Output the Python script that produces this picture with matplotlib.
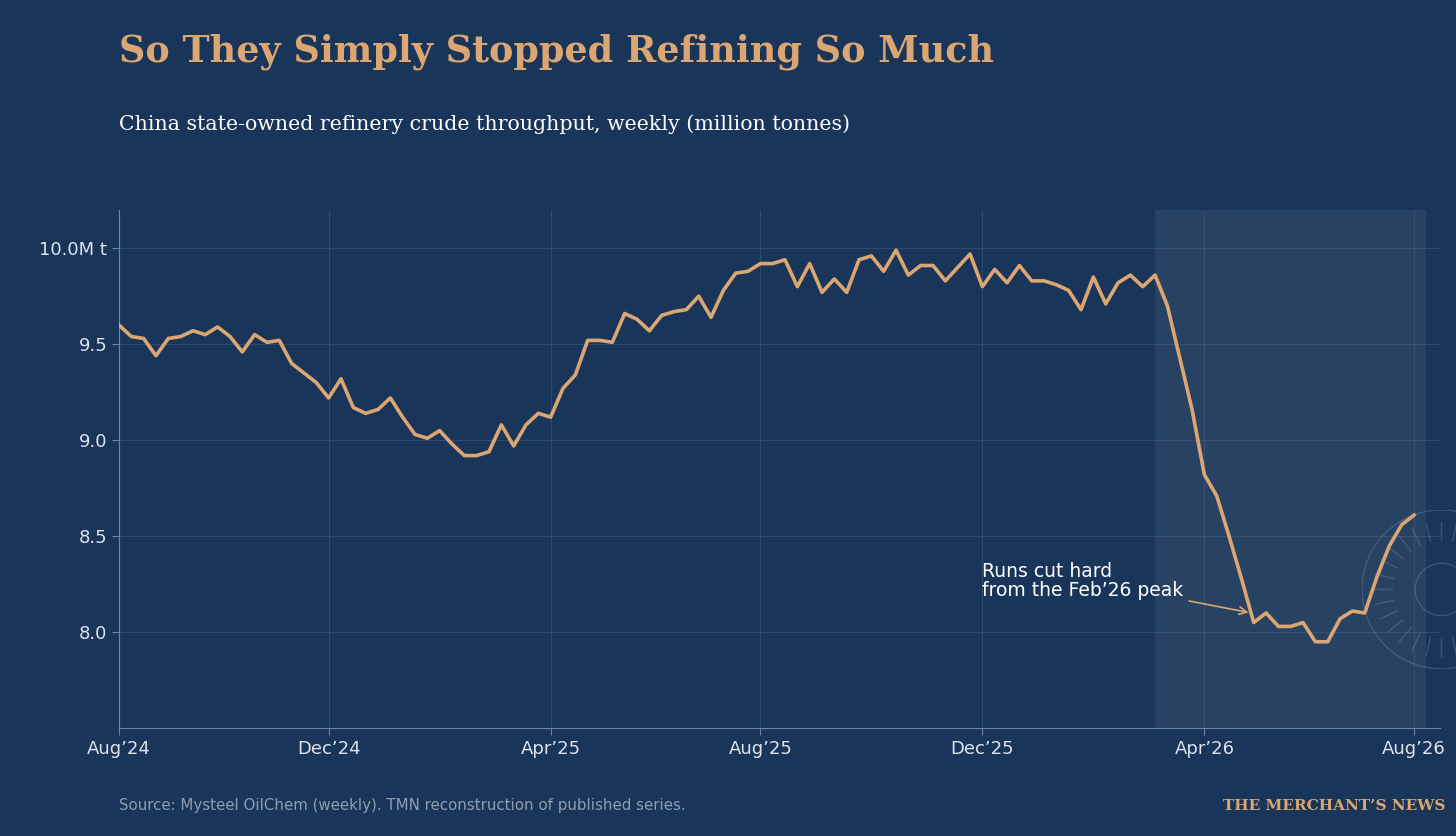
import numpy as np
import matplotlib.pyplot as plt

# weekly throughput, million tonnes (week 0 = Aug'24)
values = [9.60, 9.54, 9.53, 9.44, 9.53, 9.54, 9.57, 9.55, 9.59, 9.54, 9.46, 9.55,
          9.51, 9.52, 9.40, 9.35, 9.30, 9.22, 9.32, 9.17, 9.14, 9.16, 9.22, 9.12,
          9.03, 9.01, 9.05, 8.98, 8.92, 8.92, 8.94, 9.08, 8.97, 9.08, 9.14, 9.12,
          9.27, 9.34, 9.52, 9.52, 9.51, 9.66, 9.63, 9.57, 9.65, 9.67, 9.68, 9.75,
          9.64, 9.78, 9.87, 9.88, 9.92, 9.92, 9.94, 9.80, 9.92, 9.77, 9.84, 9.77,
          9.94, 9.96, 9.88, 9.99, 9.86, 9.91, 9.91, 9.83, 9.90, 9.97, 9.80, 9.89,
          9.82, 9.91, 9.83, 9.83, 9.81, 9.78, 9.68, 9.85, 9.71, 9.82, 9.86, 9.80,
          9.86, 9.70, 9.43, 9.16, 8.82, 8.71, 8.50, 8.28, 8.05, 8.10, 8.03, 8.03,
          8.05, 7.95, 7.95, 8.07, 8.11, 8.10, 8.29, 8.45, 8.56, 8.61]
weeks = np.arange(len(values))
tick_weeks = [0, 17, 35, 52, 70, 88, 105]
tick_labels = ["Aug\u201924", "Dec\u201924", "Apr\u201925", "Aug\u201925",
               "Dec\u201925", "Apr\u201926", "Aug\u201926"]
shade_start, shade_end = 84, 106

bg = "#1a355a"
gold = "#dba672"

fig = plt.figure(figsize=(14.56, 8.36), dpi=100, facecolor=bg)
ax = fig.add_axes([0.0817, 0.129, 0.9073, 0.62], facecolor=bg)

ax.axvspan(shade_start, shade_end, color="#3a5270", alpha=0.45, lw=0, zorder=0)
ax.plot(weeks, values, color=gold, lw=2.6, zorder=3)

ax.set_xlim(0, 107.1)
ax.set_ylim(7.5, 10.2)
ax.set_yticks([8.0, 8.5, 9.0, 9.5, 10.0])
ax.set_yticklabels(["8.0", "8.5", "9.0", "9.5", "10.0M t"])
ax.set_xticks(tick_weeks)
ax.set_xticklabels(tick_labels)
ax.grid(True, color="#5a7090", alpha=0.35, lw=0.8)
for s in ["top", "right"]:
    ax.spines[s].set_visible(False)
for s in ["left", "bottom"]:
    ax.spines[s].set_color("#6f84a0")
ax.tick_params(colors="#dce3ec", labelsize=13, length=5, color="#6f84a0")

ax.annotate("Runs cut hard\nfrom the Feb\u201926 peak",
            xy=(91.8, 8.10), xytext=(70, 8.17),
            color="white", fontsize=13.5, va="bottom", linespacing=1.0,
            arrowprops=dict(arrowstyle="->", color=gold, lw=1.2))

# faint watermark seal
wax = fig.add_axes([0.935, 0.2, 0.11, 0.19])
wax.set_xlim(-1, 1); wax.set_ylim(-1, 1); wax.set_aspect("equal"); wax.axis("off")
t = np.linspace(0, 2 * np.pi, 200)
wax.plot(np.cos(t), np.sin(t), color="#8a98aa", alpha=0.3, lw=1)
wax.plot(0.33 * np.cos(t), 0.33 * np.sin(t), color="#8a98aa", alpha=0.3, lw=1)
for a in np.linspace(0, 2 * np.pi, 28, endpoint=False):
    wax.plot([0.62 * np.cos(a), 0.85 * np.cos(a)], [0.62 * np.sin(a), 0.85 * np.sin(a)],
             color="#8a98aa", alpha=0.3, lw=1)

fig.text(0.0817, 0.938, "So They Simply Stopped Refining So Much", family="DejaVu Serif",
         weight="bold", fontsize=26.3, color=gold, va="center")
fig.text(0.0817, 0.852, "China state-owned refinery crude throughput, weekly (million tonnes)",
         family="DejaVu Serif", fontsize=14.8, color="white", va="center")
fig.text(0.0817, 0.036, "Source: Mysteel OilChem (weekly). TMN reconstruction of published series.",
         fontsize=10.8, color="#8f9db0", va="center")
fig.text(0.993, 0.036, "THE MERCHANT\u2019S NEWS", family="DejaVu Serif", weight="bold",
         fontsize=11, color=gold, ha="right", va="center")

fig.savefig("out.png", dpi=100, facecolor=bg)
